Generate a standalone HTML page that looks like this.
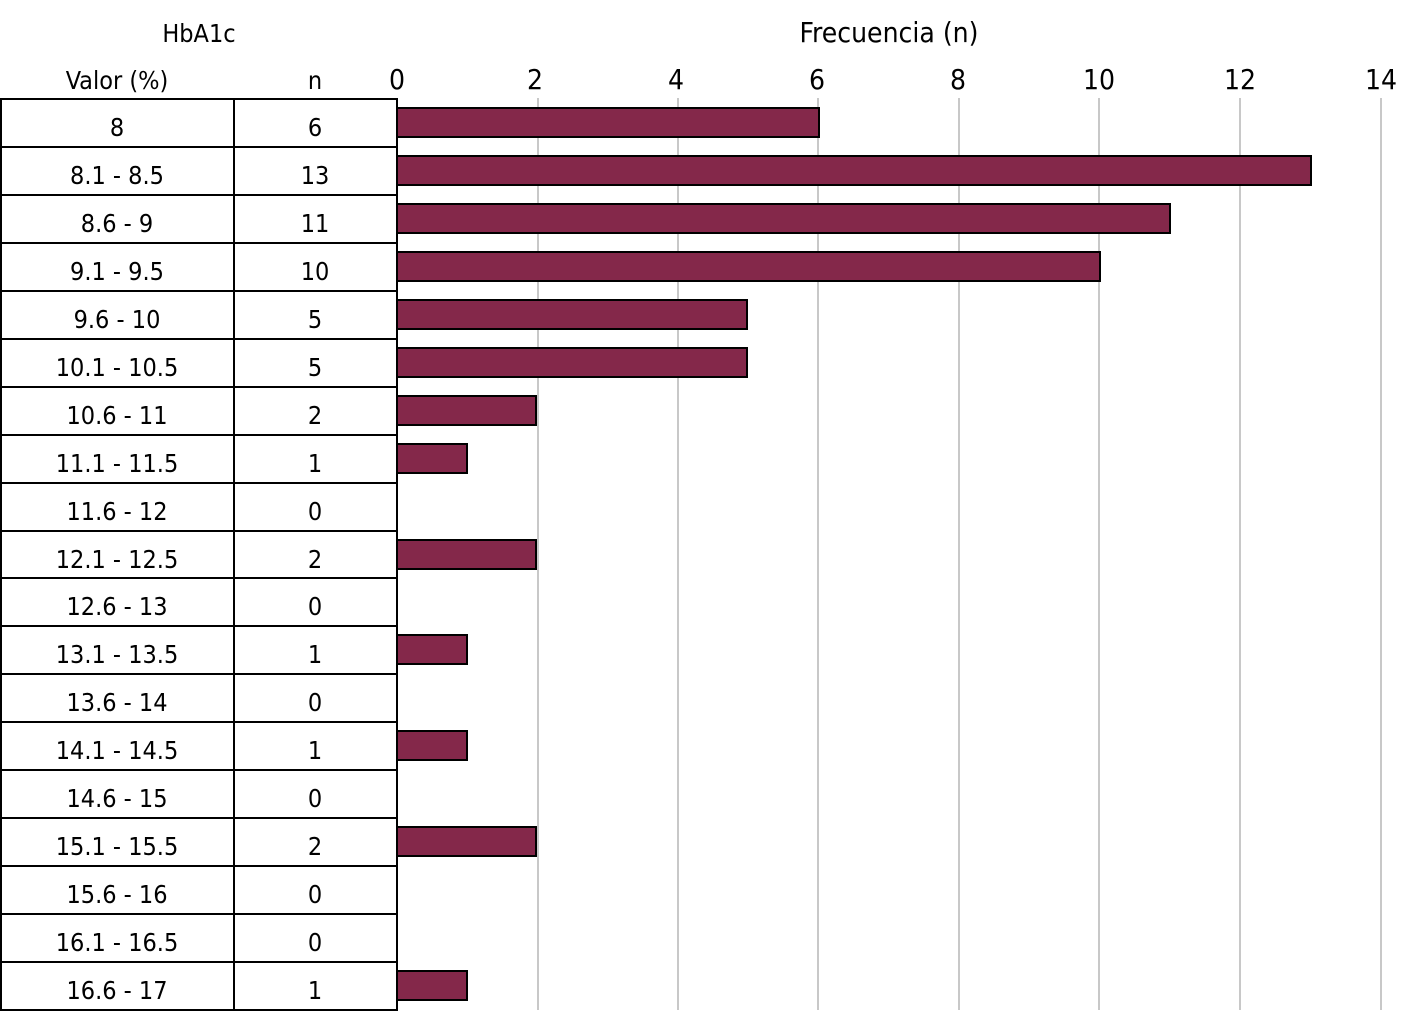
<!DOCTYPE html>
<html><head><meta charset="utf-8"><style>html,body{margin:0;padding:0;background:#fff}svg{display:block}</style></head>
<body>
<svg width="1424" height="1024" viewBox="0 0 1424 1024" xmlns="http://www.w3.org/2000/svg" font-family="'DejaVu Sans Condensed','Liberation Sans',sans-serif" fill="#000">
<g stroke="#c8c8c8" stroke-width="2">
<line x1="538" y1="98" x2="538" y2="1010"/><line x1="678" y1="98" x2="678" y2="1010"/><line x1="818" y1="98" x2="818" y2="1010"/><line x1="959" y1="98" x2="959" y2="1010"/><line x1="1099" y1="98" x2="1099" y2="1010"/><line x1="1240" y1="98" x2="1240" y2="1010"/><line x1="1381" y1="98" x2="1381" y2="1010"/>
</g>
<g font-size="25" text-anchor="middle">
<text x="199" y="42">HbA1c</text>
<text x="889" y="42" font-size="28">Frecuencia (n)</text>
<text x="117" y="89">Valor (%)</text>
<text x="315" y="89">n</text>
<text x="397" y="89" font-size="28">0</text><text x="535" y="89" font-size="28">2</text><text x="676" y="89" font-size="28">4</text><text x="817" y="89" font-size="28">6</text><text x="958" y="89" font-size="28">8</text><text x="1099" y="89" font-size="28">10</text><text x="1240" y="89" font-size="28">12</text><text x="1381" y="89" font-size="28">14</text>
</g>
<g fill="#84284a" stroke="#000" stroke-width="2">
<rect x="397" y="108" width="422" height="29"/>
<rect x="397" y="156" width="914" height="29"/>
<rect x="397" y="204" width="773" height="29"/>
<rect x="397" y="252" width="703" height="29"/>
<rect x="397" y="300" width="350" height="29"/>
<rect x="397" y="348" width="350" height="29"/>
<rect x="397" y="396" width="139" height="29"/>
<rect x="397" y="444" width="70" height="29"/>
<rect x="397" y="540" width="139" height="29"/>
<rect x="397" y="635" width="70" height="29"/>
<rect x="397" y="731" width="70" height="29"/>
<rect x="397" y="827" width="139" height="29"/>
<rect x="397" y="971" width="70" height="29"/>
</g>
<g stroke="#000" stroke-width="2">
<line x1="0" y1="99" x2="398" y2="99"/><line x1="0" y1="147" x2="398" y2="147"/><line x1="0" y1="195" x2="398" y2="195"/><line x1="0" y1="243" x2="398" y2="243"/><line x1="0" y1="291" x2="398" y2="291"/><line x1="0" y1="339" x2="398" y2="339"/><line x1="0" y1="387" x2="398" y2="387"/><line x1="0" y1="435" x2="398" y2="435"/><line x1="0" y1="483" x2="398" y2="483"/><line x1="0" y1="531" x2="398" y2="531"/><line x1="0" y1="578" x2="398" y2="578"/><line x1="0" y1="626" x2="398" y2="626"/><line x1="0" y1="674" x2="398" y2="674"/><line x1="0" y1="722" x2="398" y2="722"/><line x1="0" y1="770" x2="398" y2="770"/><line x1="0" y1="818" x2="398" y2="818"/><line x1="0" y1="866" x2="398" y2="866"/><line x1="0" y1="914" x2="398" y2="914"/><line x1="0" y1="962" x2="398" y2="962"/><line x1="0" y1="1010" x2="398" y2="1010"/>
<line x1="1" y1="99" x2="1" y2="1010"/><line x1="234" y1="99" x2="234" y2="1010"/><line x1="397" y1="99" x2="397" y2="1010"/>
</g>
<g font-size="25" text-anchor="middle">
<text x="117" y="136">8</text><text x="315" y="136">6</text>
<text x="117" y="184">8.1 - 8.5</text><text x="315" y="184">13</text>
<text x="117" y="232">8.6 - 9</text><text x="315" y="232">11</text>
<text x="117" y="280">9.1 - 9.5</text><text x="315" y="280">10</text>
<text x="117" y="328">9.6 - 10</text><text x="315" y="328">5</text>
<text x="117" y="376">10.1 - 10.5</text><text x="315" y="376">5</text>
<text x="117" y="424">10.6 - 11</text><text x="315" y="424">2</text>
<text x="117" y="472">11.1 - 11.5</text><text x="315" y="472">1</text>
<text x="117" y="520">11.6 - 12</text><text x="315" y="520">0</text>
<text x="117" y="568">12.1 - 12.5</text><text x="315" y="568">2</text>
<text x="117" y="615">12.6 - 13</text><text x="315" y="615">0</text>
<text x="117" y="663">13.1 - 13.5</text><text x="315" y="663">1</text>
<text x="117" y="711">13.6 - 14</text><text x="315" y="711">0</text>
<text x="117" y="759">14.1 - 14.5</text><text x="315" y="759">1</text>
<text x="117" y="807">14.6 - 15</text><text x="315" y="807">0</text>
<text x="117" y="855">15.1 - 15.5</text><text x="315" y="855">2</text>
<text x="117" y="903">15.6 - 16</text><text x="315" y="903">0</text>
<text x="117" y="951">16.1 - 16.5</text><text x="315" y="951">0</text>
<text x="117" y="999">16.6 - 17</text><text x="315" y="999">1</text>
</g>
</svg>
</body></html>
